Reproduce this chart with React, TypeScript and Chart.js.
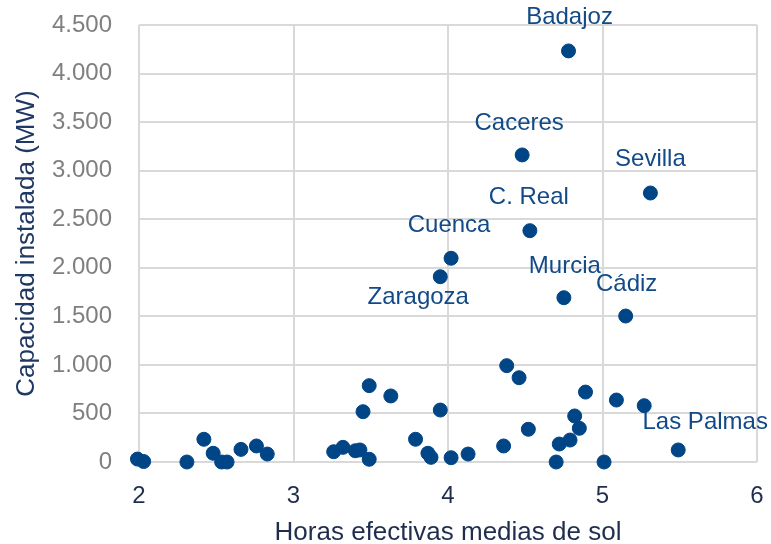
import React, { useEffect, useRef } from "react";
import { Chart, registerables } from "chart.js";

Chart.register(...registerables);

const xValues = [1.99, 2.03, 2.31, 2.42, 2.48, 2.535, 2.57, 2.66, 2.76, 2.83, 3.26, 3.32, 3.40, 3.43, 3.45, 3.49, 3.49, 3.63, 3.79, 3.87, 3.89, 3.95, 3.95, 4.02, 4.02, 4.13, 4.36, 4.38, 4.46, 4.48, 4.52, 4.53, 4.70, 4.72, 4.75, 4.78, 4.79, 4.82, 4.85, 4.89, 5.01, 5.09, 5.15, 5.27, 5.31, 5.49];
const yValues = [30, 5, 0, 234, 90, 0, 0, 130, 165, 82, 106, 151, 116, 124, 518, 786, 28, 680, 234, 90, 48, 535, 1908, 44, 2098, 82, 165, 992, 868, 3162, 337, 2382, 0, 185, 1692, 4233, 226, 474, 347, 720, 0, 638, 1503, 580, 2770, 124];
const pointNames = ["", "", "", "", "", "", "", "", "", "", "", "", "", "", "", "", "", "", "", "", "", "", "Zaragoza", "", "Cuenca", "", "", "", "", "Caceres", "", "C. Real", "", "", "Murcia", "Badajoz", "", "", "", "", "", "", "Cádiz", "", "Sevilla", "Las Palmas"];
const yTickLabels = ["0", "500", "1.000", "1.500", "2.000", "2.500", "3.000", "3.500", "4.000", "4.500"];
const xTickLabels = ["2", "3", "4", "5", "6"];
const xTitle = "Horas efectivas medias de sol";
const yTitle = "Capacidad instalada (MW)";

const labelOffsets: Record<string, [number, number]> = {
  Badajoz: [1, -34],
  Caceres: [-3, -32],
  Sevilla: [0, -34],
  "C. Real": [-1, -33],
  Cuenca: [-2, -33],
  Zaragoza: [-22, 21],
  Murcia: [1, -31],
  "Cádiz": [1, -32],
  "Las Palmas": [27, -28],
};

const FONT = "'Liberation Sans', Arial, sans-serif";

const labelPlugin = {
  id: "pointLabels",
  afterDatasetsDraw(chart: any) {
    const ctx = chart.ctx;
    const meta = chart.getDatasetMeta(0);
    ctx.save();
    ctx.font = `24px ${FONT}`;
    ctx.fillStyle = "#124a88";
    ctx.textAlign = "center";
    ctx.textBaseline = "middle";
    meta.data.forEach((el: any, i: number) => {
      const name = pointNames[i];
      if (!name) return;
      const off = labelOffsets[name] || [0, -32];
      ctx.fillText(name, el.x + off[0], el.y + off[1]);
    });
    ctx.restore();
  },
};

const zeroPad = (s: any) => {
  s.paddingTop = 0;
  s.paddingBottom = 0;
  s.paddingLeft = 0;
  s.paddingRight = 0;
};

export default function App() {
  const ref = useRef<HTMLCanvasElement>(null);
  useEffect(() => {
    if (!ref.current) return;
    const data = xValues.map((x, i) => ({ x, y: yValues[i] }));
    const chart = new Chart(ref.current, {
      type: "scatter",
      data: {
        datasets: [
          {
            data,
            backgroundColor: "#004586",
            borderColor: "#004586",
            pointRadius: 7,
            pointHoverRadius: 7,
            clip: false as any,
          },
        ],
      },
      options: {
        animation: false,
        responsive: false,
        devicePixelRatio: 1,
        layout: { padding: { left: 0, right: 14, top: 25, bottom: 0 } },
        plugins: { legend: { display: false }, tooltip: { enabled: false } },
        scales: {
          x: {
            type: "linear",
            min: 2,
            max: 6,
            afterFit: (s: any) => {
              s.height = 82;
              zeroPad(s);
            },
            ticks: {
              stepSize: 1,
              padding: 20,
              color: "#1f2e4d",
              font: { size: 24, family: FONT },
              callback: (v: any) => xTickLabels[Math.round(Number(v) - 2)] ?? "",
            },
            grid: { color: "#d9d9d9", lineWidth: 2, drawTicks: false },
            border: { display: false },
            title: {
              display: true,
              text: xTitle,
              color: "#1f2e4d",
              font: { size: 26, family: FONT },
              padding: { top: 0, bottom: -4 },
            },
          },
          y: {
            type: "linear",
            min: 0,
            max: 4500,
            afterFit: (s: any) => {
              s.width = 139;
              zeroPad(s);
            },
            ticks: {
              stepSize: 500,
              padding: 27,
              color: "#7f7f7f",
              font: { size: 24, family: FONT },
              callback: (v: any) => yTickLabels[Math.round(Number(v) / 500)] ?? "",
            },
            grid: { color: "#d9d9d9", lineWidth: 2, drawTicks: false },
            border: { display: false },
            title: {
              display: true,
              text: yTitle,
              color: "#1f3864",
              font: { size: 26, family: FONT },
              padding: { top: 11, bottom: 0 },
            },
          },
        },
      },
      plugins: [labelPlugin],
    });
    return () => chart.destroy();
  }, []);
  return (
    <div style={{ position: "fixed", left: 0, top: 0, width: 771, height: 544, background: "#fff" }}>
      <canvas ref={ref} width={771} height={544} />
    </div>
  );
}
